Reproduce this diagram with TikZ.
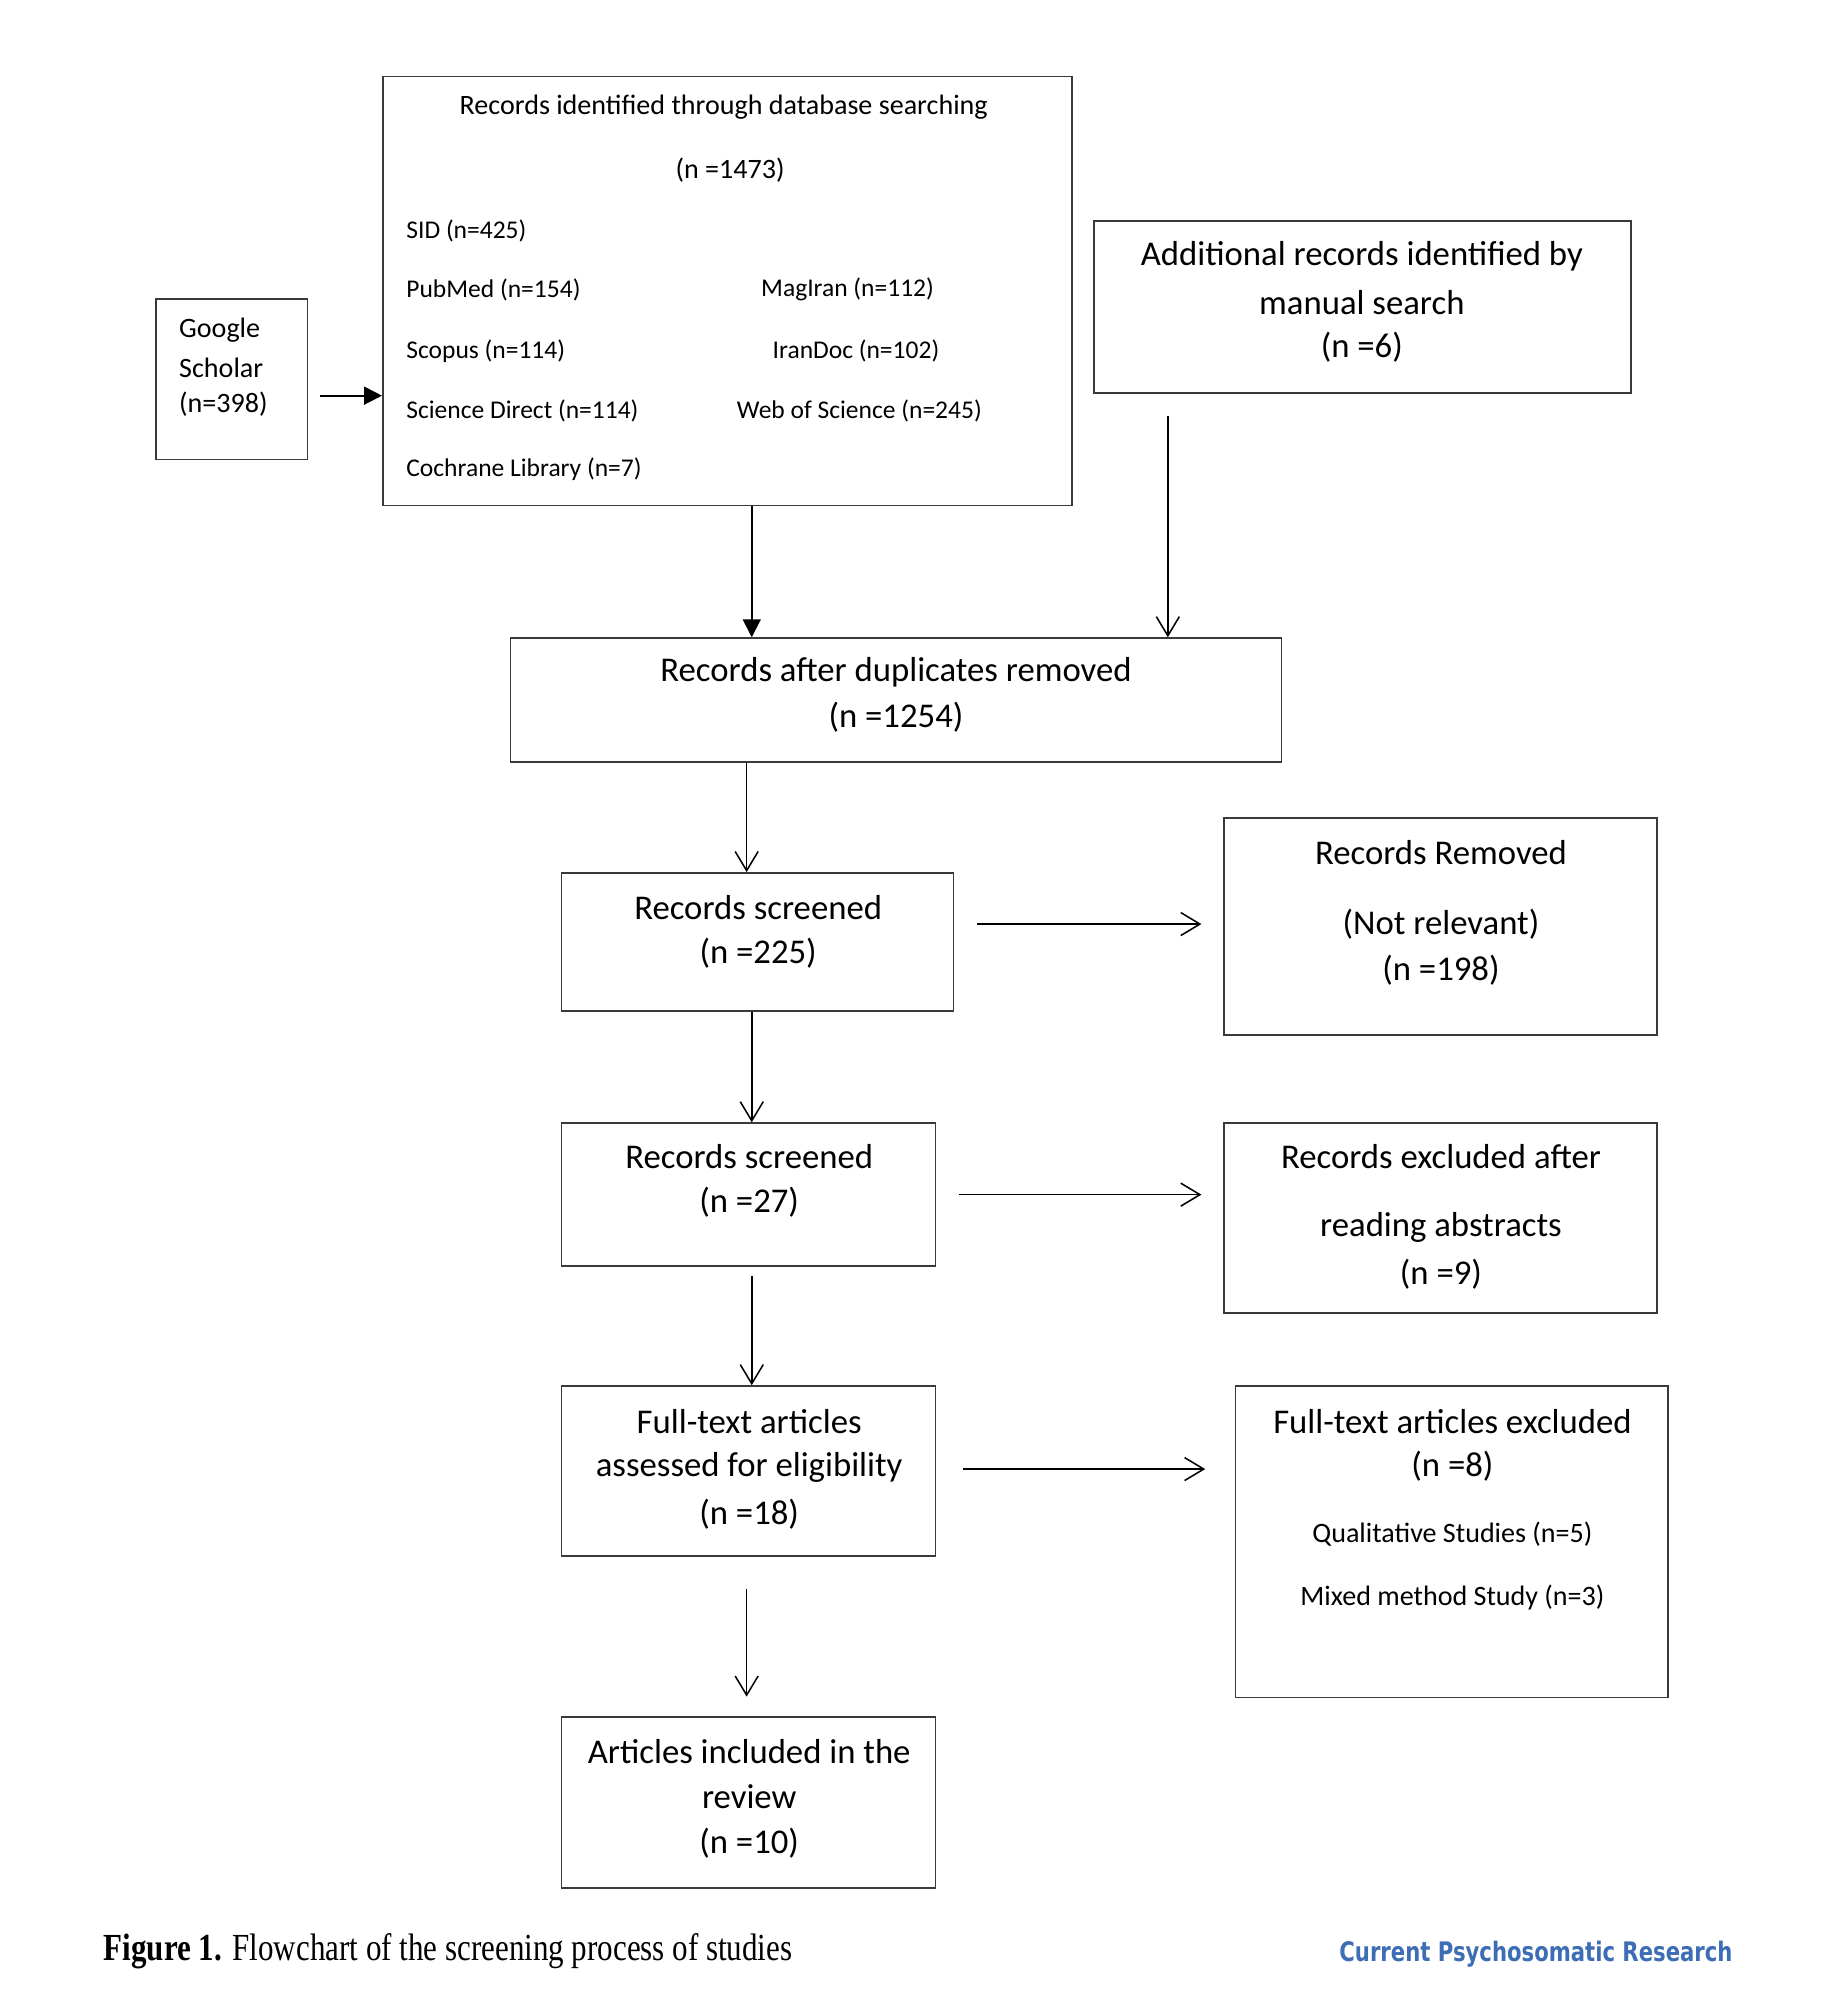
\documentclass[tikz,border=0pt]{standalone}
\usepackage{fontspec}
\setmainfont{Carlito}
\newfontfamily\capfont{Liberation Serif}
\newfontfamily\logofont{DejaVu Sans}
\usepackage{graphicx}
\usetikzlibrary{arrows.meta}
\definecolor{linec}{HTML}{3A3A3A}
\definecolor{logoblue}{HTML}{3D6DB5}
\tikzset{
  box/.style={draw=linec, line width=0.7pt, rectangle, inner sep=0pt},
  farrow/.style={draw=black, line width=0.7pt, -{Triangle[length=7pt,width=7pt]}},
  oarrow/.style={draw=black, line width=0.6pt, -{Straight Barb[length=7.5pt,width=9pt,line width=0.6pt]}},
  maintxt/.style={inner sep=0pt, font=\fontsize{13.6}{18}\selectfont, anchor=center},
  midtxt/.style={inner sep=0pt, font=\fontsize{11}{14}\selectfont, anchor=center},
  listtxt/.style={inner sep=0pt, font=\fontsize{10}{13}\selectfont, anchor=west},
}
\begin{document}
\begin{tikzpicture}[x=0.5pt,y=-0.5pt]
\useasboundingbox[fill=white] (0,0) rectangle (1440,1567);

% boxes
\node[box, minimum width=270pt, minimum height=168pt] (db) at (570,228) {};
\node[box, minimum width=59.5pt, minimum height=63pt] (gs) at (181.5,297) {};
\node[box, minimum width=210.5pt, minimum height=67.5pt] (add) at (1067.5,240.5) {};
\node[box, minimum width=302pt, minimum height=48.5pt] (dup) at (702,548.5) {};
\node[box, minimum width=153.5pt, minimum height=54pt] (s1) at (593.5,738) {};
\node[box, minimum width=169.5pt, minimum height=85pt] (rem) at (1128.5,726) {};
\node[box, minimum width=146.5pt, minimum height=56pt] (s2) at (586.5,936) {};
\node[box, minimum width=169.5pt, minimum height=74.5pt] (exa) at (1128.5,954.5) {};
\node[box, minimum width=146.5pt, minimum height=66.5pt] (ft) at (586.5,1152.5) {};
\node[box, minimum width=169.5pt, minimum height=122pt] (fte) at (1137.5,1208) {};
\node[box, minimum width=146.5pt, minimum height=67pt] (inc) at (586.5,1412) {};

% database box texts
\node[midtxt] (dbt1) at (567,84) {Records identified through database searching};
\node[midtxt] (dbt2) at (572,133) {(n =1473)};
\node[listtxt] (l1) at (318,181) {SID (n=425)};
\node[listtxt] (l2) at (318,227) {PubMed (n=154)};
\node[listtxt] (l3) at (596,227) {MagIran (n=112)};
\node[listtxt] (l4) at (318,275) {Scopus (n=114)};
\node[listtxt] (l5) at (605,275) {IranDoc (n=102)};
\node[listtxt] (l6) at (318,322) {Science Direct (n=114)};
\node[listtxt] (l7) at (577,322) {Web of Science (n=245)};
\node[listtxt] (l8) at (318,368) {Cochrane Library (n=7)};

% google scholar
\node[midtxt, anchor=west] (gst1) at (140,259) {Google};
\node[midtxt, anchor=west] (gst2) at (140,288) {Scholar};
\node[midtxt, anchor=west] (gst3) at (140,317) {(n=398)};

% additional
\node[maintxt] (addt1) at (1067,201) {Additional records identified by};
\node[maintxt] (addt2) at (1067,237) {manual search};
\node[maintxt] (addt3) at (1067,272) {(n =6)};

% duplicates
\node[maintxt] (dupt1) at (702,527) {Records after duplicates removed};
\node[maintxt] (dupt2) at (702,562) {(n =1254)};

% screened 1
\node[maintxt] (s1t1) at (594,711) {Records screened};
\node[maintxt] (s1t2) at (594,747) {(n =225)};

% removed
\node[maintxt] (remt1) at (1129,668) {Records Removed};
\node[maintxt] (remt2) at (1129,724) {(Not relevant)};
\node[maintxt] (remt3) at (1129,760) {(n =198)};

% screened 2
\node[maintxt] (s2t1) at (587,906) {Records screened};
\node[maintxt] (s2t2) at (587,942) {(n =27)};

% excluded abstracts
\node[maintxt] (exat1) at (1129,906) {Records excluded after};
\node[maintxt] (exat2) at (1129,962) {reading abstracts};
\node[maintxt] (exat3) at (1129,998) {(n =9)};

% full text
\node[maintxt] (ftt1) at (587,1114) {Full-text articles};
\node[maintxt] (ftt2) at (587,1150) {assessed for eligibility};
\node[maintxt] (ftt3) at (587,1186) {(n =18)};

% full text excluded
\node[maintxt] (ftet1) at (1138,1114) {Full-text articles excluded};
\node[maintxt] (ftet2) at (1138,1149) {(n =8)};
\node[midtxt] (ftet3) at (1138,1202) {Qualitative Studies (n=5)};
\node[midtxt] (ftet4) at (1138,1252) {Mixed method Study (n=3)};

% included
\node[maintxt] (inct1) at (587,1372) {Articles included in the};
\node[maintxt] (inct2) at (587,1408) {review};
\node[maintxt] (inct3) at (587,1444) {(n =10)};

% connectors
\coordinate (gsout) at ([yshift=-6.5pt]gs.east);
\draw[farrow, shorten <=4.5pt] (gsout) -- (gsout -| db.west);

\coordinate (dbout) at ([xshift=9.5pt]db.south);
\draw[farrow] (dbout) -- (dbout |- dup.north);

\coordinate (addout) at ([xshift=-76.25pt]add.south);
\draw[oarrow, shorten <=8.5pt] (addout) -- (addout |- dup.north);

\coordinate (dupout) at ([xshift=-58.5pt]dup.south);
\draw[oarrow] (dupout) -- (dupout |- s1.north);

\coordinate (s1out) at ([yshift=7pt]s1.east);
\draw[oarrow, shorten <=9pt, shorten >=8.5pt] (s1out) -- (s1out -| rem.west);

\coordinate (s1down) at ([xshift=-2.25pt]s1.south);
\draw[oarrow] (s1down) -- (s1down |- s2.north);

\draw[oarrow, shorten <=9pt, shorten >=8.5pt] (s2.east) -- (s2.east -| exa.west);

\coordinate (s2down) at ([xshift=1.25pt]s2.south);
\draw[oarrow, shorten <=3.5pt] (s2down) -- (s2down |- ft.north);

\coordinate (ftout) at ([yshift=0.75pt]ft.east);
\draw[oarrow, shorten <=10.5pt, shorten >=11.5pt] (ftout) -- (ftout -| fte.west);

\coordinate (ftdown) at ([xshift=-0.75pt]ft.south);
\draw[oarrow, shorten <=12.5pt, shorten >=7.5pt] (ftdown) -- (ftdown |- inc.north);

% caption
\node[inner sep=0pt, anchor=west] (cap) at (81,1529) {\capfont\fontsize{15}{18}\selectfont\scalebox{0.81}[1]{\textbf{Figure 1.} Flowchart of the screening process of studies}};
\node[inner sep=0pt, anchor=west, text=logoblue] (logo) at (1049,1531) {\resizebox{154pt}{8pt}{\logofont\bfseries Current Psychosomatic Research}};
\end{tikzpicture}
\end{document}
